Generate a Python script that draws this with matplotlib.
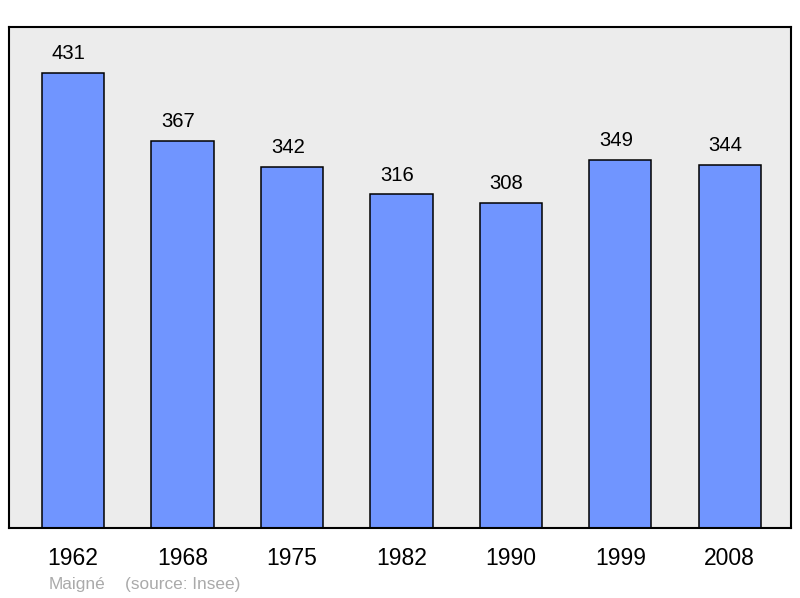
import matplotlib
matplotlib.use('Agg')
import matplotlib.pyplot as plt

years = ['1962', '1968', '1975', '1982', '1990', '1999', '2008']
population = [431, 367, 342, 316, 308, 349, 344]

plt.rcParams['font.family'] = ['Liberation Sans', 'DejaVu Sans']

fig = plt.figure(figsize=(8, 5.98), dpi=100)
ax = fig.add_axes([9 / 800, 70 / 598, 782 / 800, 501 / 598])
ax.set_facecolor('#ececec')

x = range(len(years))
ax.bar(x, population, width=0.57, color='#7095ff', edgecolor='black', linewidth=1.1)

# value labels sit a bit left of the bar centre, as in the original
for xi, v in zip(x, population):
    ax.annotate(str(v), (xi, v), xytext=(-3, 7), textcoords='offset points',
                ha='center', va='bottom', fontsize=14.6)

ax.set_xlim(-0.585, 6.56)
ax.set_ylim(0, 474.6)
ax.set_yticks([])
ax.set_xticks(list(x))
ax.set_xticklabels(years, fontsize=16.5)
ax.tick_params(axis='x', length=0, pad=14)
for s in ax.spines.values():
    s.set_linewidth(1.5)

fig.text(49 / 800, 1 - 585 / 598, u'Maigné', fontsize=12.4, color='#aaaaaa', va='center')
fig.text(125 / 800, 1 - 585 / 598, '(source: Insee)', fontsize=12.4, color='#aaaaaa', va='center')

fig.savefig('out.png', dpi=100)
